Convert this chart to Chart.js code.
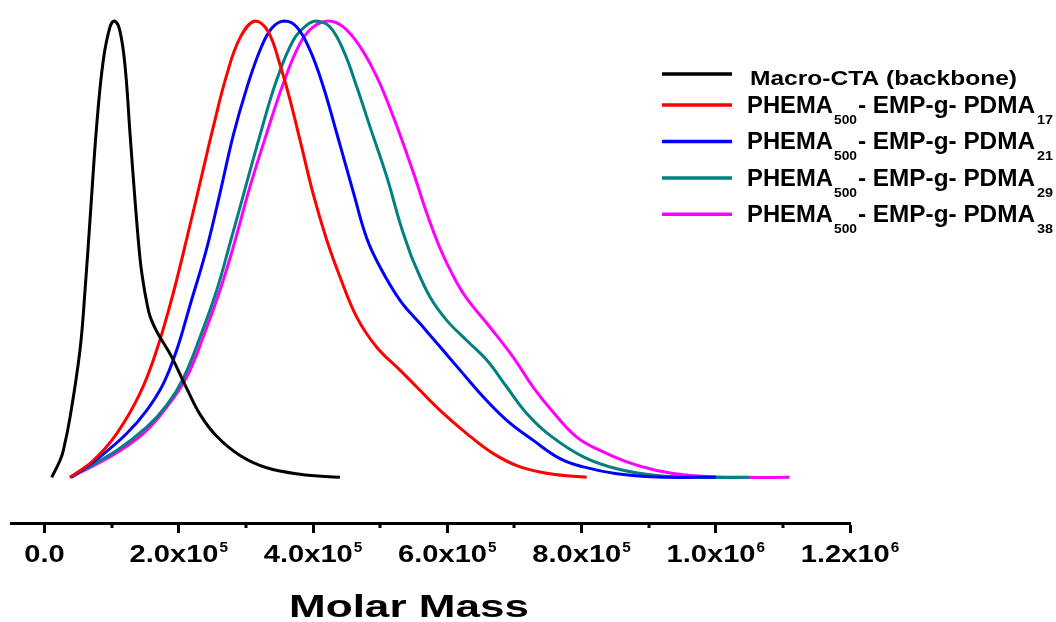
<!DOCTYPE html>
<html><head><meta charset="utf-8">
<script src="https://cdn.jsdelivr.net/npm/chart.js@4.4.0/dist/chart.umd.min.js"></script>
<style>html,body{margin:0;padding:0;background:#fff;}#wrap{width:1056px;height:622px;}</style>
</head><body><div id="wrap"><canvas id="c" width="1056" height="622"></canvas></div>
<script>
// ---- data (molar mass, normalized intensity) ----
const macroCTA = [[1.06e4,0],[2.3e4,0.037],[2.8e4,0.059],[3.8e4,0.132],[5.28e4,0.279],[6.03e4,0.41],[6.77e4,0.564],[7.77e4,0.772],[8.75e4,0.914],[9.75e4,0.987],[1.04e5,1.0],[1.12e5,0.98],[1.2e5,0.9],[1.273e5,0.754],[1.348e5,0.607],[1.422e5,0.48],[1.471e5,0.426],[1.522e5,0.384],[1.571e5,0.353],[1.646e5,0.327],[1.72e5,0.307],[1.82e5,0.283],[1.918e5,0.257],[2.118e5,0.195],[2.316e5,0.138],[2.565e5,0.09],[2.912e5,0.048],[3.31e5,0.021],[3.806e5,0.007],[4.4e5,0]];
const pdma17 = [[3.79e4,0],[7.26e4,0.037],[1.075e5,0.096],[1.422e5,0.184],[1.671e5,0.279],[1.918e5,0.404],[2.167e5,0.553],[2.316e5,0.645],[2.514e5,0.768],[2.714e5,0.882],[2.912e5,0.963],[3.135e5,1.0],[3.33e5,0.977],[3.508e5,0.904],[3.657e5,0.827],[3.806e5,0.739],[4.004e5,0.62],[4.204e5,0.52],[4.402e5,0.439],[4.651e5,0.351],[4.949e5,0.285],[5.296e5,0.235],[5.545e5,0.198],[5.892e5,0.147],[6.29e5,0.096],[6.686e5,0.052],[7.084e5,0.023],[7.531e5,0.008],[8.078e5,0]];
const pdma21 = [[4.04e4,0],[8.26e4,0.045],[1.224e5,0.096],[1.522e5,0.147],[1.769e5,0.205],[1.969e5,0.279],[2.167e5,0.377],[2.416e5,0.502],[2.614e5,0.623],[2.812e5,0.75],[3.012e5,0.853],[3.21e5,0.936],[3.384e5,0.984],[3.568e5,1.0],[3.757e5,0.987],[3.955e5,0.936],[4.153e5,0.856],[4.353e5,0.754],[4.6e5,0.625],[4.8e5,0.524],[4.998e5,0.461],[5.296e5,0.388],[5.594e5,0.337],[5.892e5,0.286],[6.19e5,0.235],[6.537e5,0.176],[6.886e5,0.125],[7.282e5,0.081],[7.68e5,0.041],[8.027e5,0.023],[8.525e5,0.008],[9.12e5,0.001],[1.0e6,0]];
const pdma29 = [[3.79e4,0],[1.075e5,0.059],[1.522e5,0.11],[1.82e5,0.158],[2.067e5,0.217],[2.316e5,0.307],[2.565e5,0.41],[2.763e5,0.513],[2.961e5,0.618],[3.21e5,0.75],[3.459e5,0.871],[3.706e5,0.958],[3.906e5,0.991],[4.055e5,1.0],[4.253e5,0.987],[4.451e5,0.936],[4.651e5,0.856],[4.849e5,0.768],[5.098e5,0.659],[5.296e5,0.557],[5.396e5,0.513],[5.494e5,0.474],[5.743e5,0.395],[5.992e5,0.344],[6.29e5,0.3],[6.588e5,0.257],[6.886e5,0.198],[7.184e5,0.14],[7.531e5,0.092],[8.027e5,0.045],[8.525e5,0.019],[9.12e5,0.004],[9.866e5,0],[1.05e6,0]];
const pdma38 = [[3.79e4,0],[9.75e4,0.045],[1.471e5,0.096],[1.82e5,0.154],[2.118e5,0.22],[2.365e5,0.308],[2.614e5,0.41],[2.812e5,0.505],[3.061e5,0.637],[3.31e5,0.754],[3.557e5,0.863],[3.806e5,0.951],[4.004e5,0.987],[4.228e5,1.0],[4.451e5,0.987],[4.7e5,0.944],[4.949e5,0.878],[5.196e5,0.79],[5.494e5,0.668],[5.694e5,0.579],[5.892e5,0.502],[6.09e5,0.441],[6.29e5,0.392],[6.637e5,0.329],[6.984e5,0.263],[7.282e5,0.197],[7.531e5,0.151],[7.929e5,0.088],[8.276e5,0.059],[8.674e5,0.034],[9.12e5,0.015],[9.617e5,0.004],[1.036e6,0],[1.11e6,0]];

const seriesLabels = ['Macro-CTA (backbone)','PHEMA500- EMP-g- PDMA17','PHEMA500- EMP-g- PDMA21','PHEMA500- EMP-g- PDMA29','PHEMA500- EMP-g- PDMA38'];
const legendSub1 = ['', '500', '500', '500', '500'];
const legendSub2 = ['', '17', '21', '29', '38'];
const seriesColors = ['#000000','#ff0000','#0000ff','#008080','#ff00ff'];

const xTicks = [0, 2e5, 4e5, 6e5, 8e5, 1e6, 1.2e6];
const xTickMain = ['0.0','2.0x10','4.0x10','6.0x10','8.0x10','1.0x10','1.2x10'];
const xTickExp = ['', '5', '5', '5', '5', '6', '6'];
const xMinorTicks = [1e5, 3e5, 5e5, 7e5, 9e5, 1.1e6];
const xTitle = 'Molar Mass';

const FONT = '"Liberation Sans", Arial, Helvetica, sans-serif';
function toXY(a){ return a.map(p => ({x:p[0], y:p[1]})); }
const allSeries = [macroCTA, pdma17, pdma21, pdma29, pdma38];

const textPlugin = {
  id: 'texts',
  afterDraw(chart) {
    const ctx = chart.ctx;
    const xs = chart.scales.x;
    const area = chart.chartArea;
    ctx.save();
    ctx.fillStyle = '#000';
    ctx.textAlign = 'left';
    ctx.textBaseline = 'alphabetic';
    // minor ticks
    ctx.strokeStyle = '#000';
    ctx.lineWidth = 3;
    xMinorTicks.forEach(v => {
      const px = Math.round(xs.getPixelForValue(v));
      ctx.beginPath(); ctx.moveTo(px, area.bottom); ctx.lineTo(px, area.bottom + 5); ctx.stroke();
    });
    // tick labels
    ctx.font = 'bold 23px ' + FONT;
    const mainSx = 89 / ctx.measureText('2.0x10').width;
    ctx.font = 'bold 14px ' + FONT;
    const supSx = 8.5 / ctx.measureText('5').width;
    xTicks.forEach((v, i) => {
      const px = xs.getPixelForValue(v);
      ctx.font = 'bold 23px ' + FONT;
      const mw = ctx.measureText(xTickMain[i]).width * mainSx;
      let sw = 0;
      if (xTickExp[i]) { ctx.font = 'bold 14px ' + FONT; sw = ctx.measureText(xTickExp[i]).width * supSx + 1; }
      const x0 = px - (mw + sw) / 2;
      ctx.font = 'bold 23px ' + FONT;
      ctx.save(); ctx.translate(x0, 562); ctx.scale(mainSx, 1); ctx.fillText(xTickMain[i], 0, 0); ctx.restore();
      if (xTickExp[i]) {
        ctx.font = 'bold 14px ' + FONT;
        ctx.save(); ctx.translate(x0 + mw + 1, 551.5); ctx.scale(supSx, 1); ctx.fillText(xTickExp[i], 0, 0); ctx.restore();
      }
    });
    // axis title
    ctx.font = 'bold 32px ' + FONT;
    const tw = ctx.measureText(xTitle).width;
    ctx.save(); ctx.translate(289, 617); ctx.scale(240 / tw, 1); ctx.fillText(xTitle, 0, 0); ctx.restore();
    // legend
    const rowY = [74, 105, 141.5, 178, 214.3];
    const fit = (txt, x, y, size, w) => {
      ctx.font = 'bold ' + size + 'px ' + FONT;
      const m = ctx.measureText(txt).width;
      ctx.save(); ctx.translate(x, y); ctx.scale(w / m, 1); ctx.fillText(txt, 0, 0); ctx.restore();
    };
    chart.data.datasets.forEach((ds, i) => {
      const y = rowY[i];
      ctx.strokeStyle = ds.borderColor;
      ctx.lineWidth = 3.5;
      ctx.beginPath(); ctx.moveTo(662, y); ctx.lineTo(732, y); ctx.stroke();
      if (!legendSub1[i]) {
        fit(ds.label, 750, 84.5, 21, 267);
      } else {
        const b = y + 7.5;
        fit('PHEMA', 747, b, 23, 86);
        fit(legendSub1[i], 834, b + 11, 13, 23);
        fit('- EMP-g- PDMA', 858, b, 23, 177);
        fit(legendSub2[i], 1037, b + 11, 13, 16);
      }
    });
    ctx.restore();
  }
};

new Chart(document.getElementById('c'), {
  type: 'line',
  data: {
    datasets: allSeries.map((s, i) => ({
      label: seriesLabels[i],
      data: toXY(s),
      borderColor: seriesColors[i],
      backgroundColor: seriesColors[i],
      borderWidth: 3,
      pointRadius: 0,
      fill: false,
      tension: 0.4,
      clip: false
    }))
  },
  options: {
    responsive: false,
    animation: false,
    devicePixelRatio: 1,
    layout: { padding: { left: 11, right: 206, top: 21, bottom: 0 } },
    plugins: { legend: { display: false }, tooltip: { enabled: false }, title: { display: false } },
    scales: {
      x: {
        type: 'linear', position: 'bottom', min: -5e4, max: 1.2e6,
        afterBuildTicks(s) { s.ticks = xTicks.map(v => ({ value: v })); },
        afterFit(s) { s.height = 99; },
        ticks: { display: false },
        grid: { display: true, drawOnChartArea: false, drawTicks: true, tickLength: 10, tickWidth: 3, tickColor: '#000' },
        border: { display: true, color: '#000', width: 3 }
      },
      y: { type: 'linear', display: false, min: -0.1, max: 1.0 }
    }
  },
  plugins: [textPlugin]
});
</script></body></html>
